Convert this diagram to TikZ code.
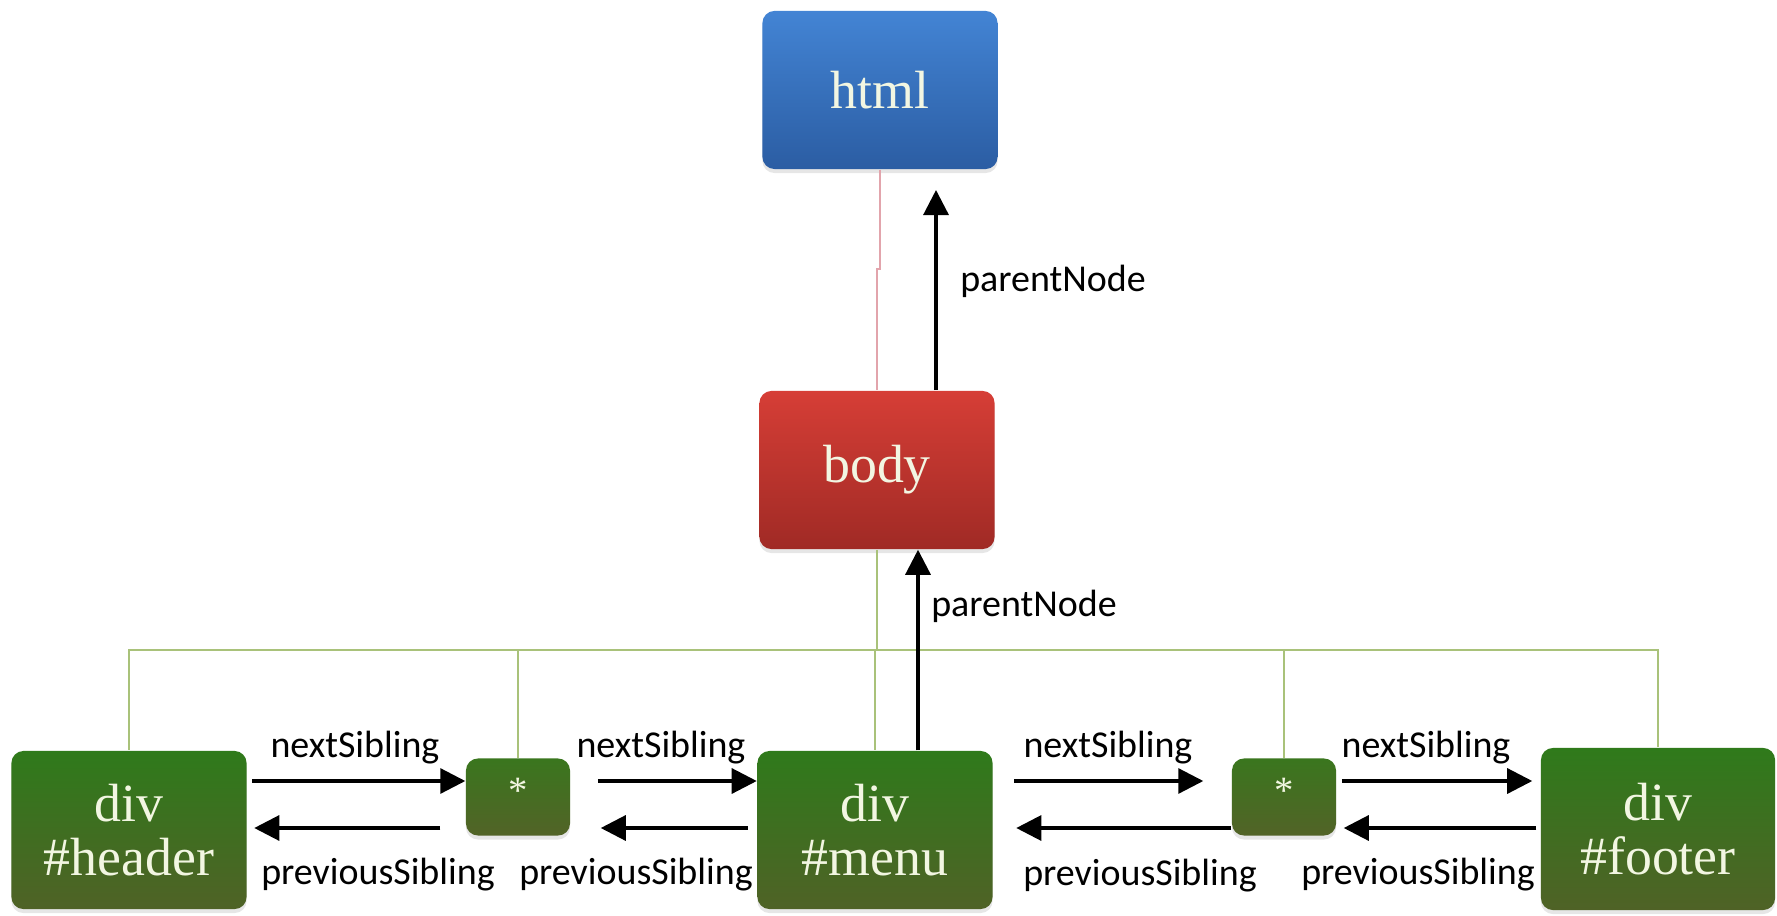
\documentclass[tikz,border=0pt]{standalone}
\usepackage{fontspec}
\setmainfont{Liberation Serif}
\newfontfamily\lblfont{Carlito}
\usetikzlibrary{arrows.meta,calc,shadows}

\definecolor{htmltop}{HTML}{4384D4}
\definecolor{htmlbot}{HTML}{2B5DA3}
\definecolor{bodytop}{HTML}{D63E36}
\definecolor{bodybot}{HTML}{A02A25}
\definecolor{divtop}{HTML}{2F7A1B}
\definecolor{divbot}{HTML}{4F6226}
\definecolor{startop}{HTML}{3A761E}
\definecolor{starbot}{HTML}{526327}
\definecolor{boxtext}{HTML}{F2F6E2}
\definecolor{busgreen}{HTML}{A9C27A}
\definecolor{pinkline}{HTML}{E2A4AC}

\begin{document}
\begin{tikzpicture}[x=0.01cm, y=-0.01cm,
    box/.style={rounded corners=0.12cm, inner sep=0pt, align=center,
        minimum width=2.35cm, minimum height=1.58cm, text=boxtext,
        font=\fontsize{15.3}{15.5}\selectfont,
        drop shadow={opacity=0.2, shadow xshift=0cm, shadow yshift=-0.04cm}},
    divbox/.style={box, top color=divtop, bottom color=divbot},
    starbox/.style={box, top color=startop, bottom color=starbot,
        minimum width=1.04cm, minimum height=0.77cm, font=\fontsize{11}{11}\selectfont},
    lbl/.style={inner sep=0pt, font=\lblfont\fontsize{10.8}{13}\selectfont},
    arr/.style={line width=0.9pt, -{Triangle[length=0.25cm, width=0.25cm]}},
    busline/.style={draw=busgreen, line width=0.5pt}]
    \useasboundingbox (0,0) rectangle (1777,916);

    \node[box, top color=htmltop, bottom color=htmlbot] (html) at (880,90) {html};
    \node[box, top color=bodytop, bottom color=bodybot] (body) at (877,470) {body};

    \node[divbox] (header) at (129,830) {div\\\#header};
    \node[starbox] (star1) at (518,797) {\raisebox{0.12cm}{*}};
    \node[divbox] (menu) at (875,830) {div\\\#menu};
    \node[starbox] (star2) at (1284,797) {\raisebox{0.12cm}{*}};
    \node[divbox, minimum width=2.34cm, minimum height=1.62cm] (footer) at (1658,829) {div\\\#footer};

    % tree lines
    \draw[draw=pinkline, line width=0.4pt] (html.south) |- ($(html.south)!0.45!(body.north)$) -| (body.north);
    \path (body.south |- 0,650) coordinate (bus);
    \draw[busline] (body.south) -- (bus);
    \foreach \n in {header,star1,menu,star2,footer}
        \draw[busline] (bus) -| (\n.north);

    % parentNode
    \coordinate (ptop) at (936,190);
    \coordinate (pmid) at (918,0);
    \draw[arr] (ptop |- body.north) -- (ptop);
    \draw[arr] (pmid |- menu.north) -- (pmid |- body.south);
    \node[lbl] (pn1) at (1053,281) {parentNode};
    \node[lbl] (pn2) at (1024,606) {parentNode};

    % siblings
    \coordinate (nextrow) at (0,781);
    \coordinate (prevrow) at (0,828);
    \draw[arr, shorten <=0.05cm] (header.east |- nextrow) -- (star1.west |- nextrow);
    \draw[arr, shorten <=0.25cm, shorten >=0.07cm] (star1.west |- prevrow) -- (header.east |- prevrow);
    \draw[arr, shorten <=0.27cm] (star1.east |- nextrow) -- (menu.west |- nextrow);
    \draw[arr, shorten <=0.09cm, shorten >=0.3cm] (menu.west |- prevrow) -- (star1.east |- prevrow);
    \draw[arr, shorten <=0.21cm, shorten >=0.28cm] (menu.east |- nextrow) -- (star2.west |- nextrow);
    \draw[arr, shorten >=0.23cm] (star2.west |- prevrow) -- (menu.east |- prevrow);
    \draw[arr, shorten <=0.05cm, shorten >=0.08cm] (star2.east |- nextrow) -- (footer.west |- nextrow);
    \draw[arr, shorten <=0.04cm, shorten >=0.07cm] (footer.west |- prevrow) -- (star2.east |- prevrow);

    \node[lbl] (ns1) at (355,748) {nextSibling};
    \node[lbl] (ns2) at (661,748) {nextSibling};
    \node[lbl] (ns3) at (1108,748) {nextSibling};
    \node[lbl] (ns4) at (1426,748) {nextSibling};
    \node[lbl] (ps1) at (378,875) {previousSibling};
    \node[lbl] (ps2) at (636,875) {previousSibling};
    \node[lbl] (ps3) at (1140,876) {previousSibling};
    \node[lbl] (ps4) at (1418,875) {previousSibling};
\end{tikzpicture}
\end{document}
